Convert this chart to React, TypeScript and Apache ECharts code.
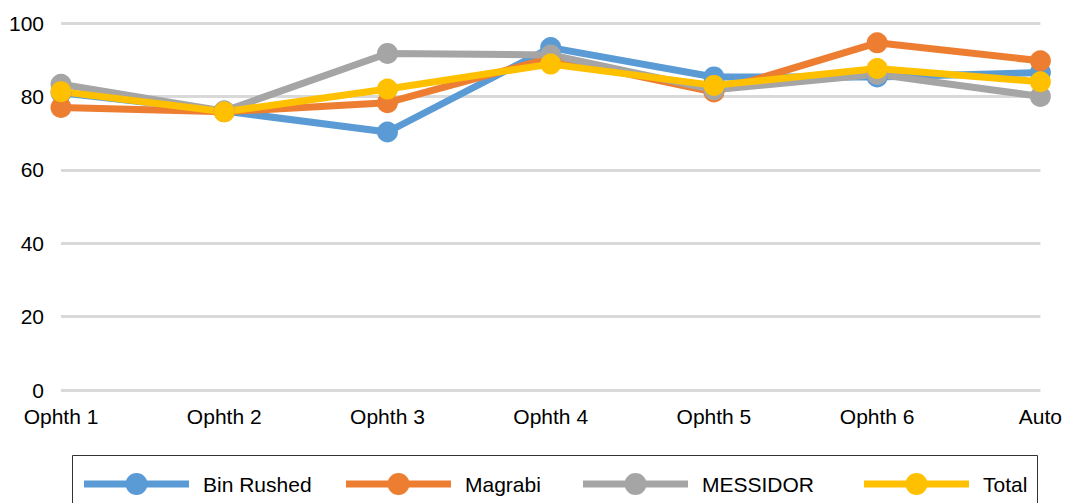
import React, { useEffect, useRef } from "react";
import * as echarts from "echarts";

const categories = ["Ophth 1", "Ophth 2", "Ophth 3", "Ophth 4", "Ophth 5", "Ophth 6", "Auto"];
const binRushed = [81, 76, 70.3, 93.3, 85.3, 85.3, 86.5];
const magrabi = [77, 75.8, 78.3, 90.5, 81.2, 94.6, 89.7];
const messidor = [83.3, 76, 91.7, 91.3, 81.8, 86, 80];
const total = [81.3, 75.8, 82, 88.8, 83, 87.6, 84];
const yTicks = { min: 0, max: 100, interval: 20 };

const seriesDefs = [
  { name: "Bin Rushed", data: binRushed, color: "#5B9BD5", legendLeft: 84 },
  { name: "Magrabi", data: magrabi, color: "#ED7D31", legendLeft: 346 },
  { name: "MESSIDOR", data: messidor, color: "#A5A5A5", legendLeft: 583 },
  { name: "Total", data: total, color: "#FFC000", legendLeft: 864 },
];

const legendIcon =
  "path://M0,7.5h105v7h-105z M41.5,11a11,11 0 1,1 22,0a11,11 0 1,1 -22,0z";

export default function App() {
  const ref = useRef<HTMLDivElement>(null);
  useEffect(() => {
    if (!ref.current) return;
    const chart = echarts.init(ref.current, null, { renderer: "svg" });
    const font = "Arial, 'Liberation Sans', sans-serif";
    chart.setOption({
      animation: false,
      textStyle: { fontFamily: font },
      grid: { left: 61, right: 22, top: 23, bottom: 113, containLabel: false },
      xAxis: {
        type: "category",
        data: categories,
        boundaryGap: false,
        axisLine: { show: false },
        axisTick: { show: false },
        axisLabel: { color: "#000", fontSize: 21, margin: 16, fontFamily: font },
      },
      yAxis: {
        type: "value",
        min: yTicks.min,
        max: yTicks.max,
        interval: yTicks.interval,
        axisLine: { show: false },
        axisTick: { show: false },
        axisLabel: { color: "#000", fontSize: 21, margin: 17, fontFamily: font },
        splitLine: { lineStyle: { color: "#D9D9D9", width: 3 } },
      },
      graphic: [
        {
          type: "rect",
          shape: { x: 72.5, y: 455.5, width: 965, height: 70 },
          style: { fill: "none", stroke: "#333", lineWidth: 1 },
          silent: true,
        },
      ],
      legend: seriesDefs.map((s) => ({
        left: s.legendLeft,
        top: 473,
        orient: "horizontal",
        itemWidth: 105,
        itemHeight: 22,
        padding: 0,
        icon: legendIcon,
        data: [
          {
            name: s.name,
            icon: legendIcon,
            itemStyle: { color: s.color },
            textStyle: { color: "#000", fontSize: 21, fontFamily: font, padding: [0, 0, 0, 9] },
          },
        ],
      })),
      series: seriesDefs.map((s) => ({
        name: s.name,
        type: "line",
        data: s.data,
        symbol: "circle",
        symbolSize: 21,
        itemStyle: { color: s.color },
        lineStyle: { color: s.color, width: 7 },
      })),
    });
    return () => chart.dispose();
  }, []);
  return (
    <div
      ref={ref}
      style={{ position: "fixed", left: 0, top: 0, width: 1065, height: 503, background: "#fff" }}
    />
  );
}
